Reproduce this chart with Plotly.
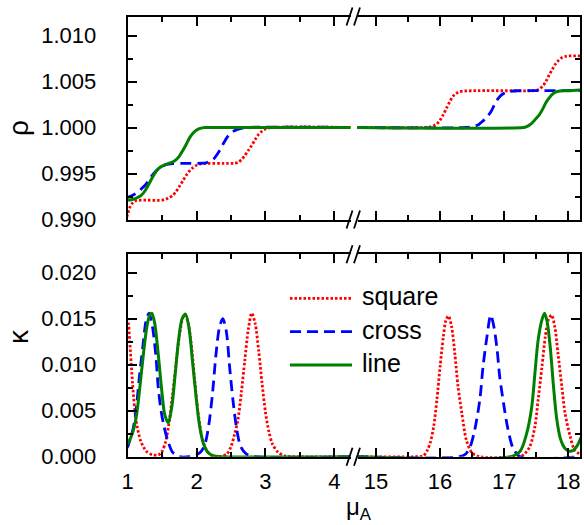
import plotly.graph_objects as go

# ---------------- data ----------------
SERIES = ["square", "cross", "line"]
COLORS = {"square": "#ff0000", "cross": "#0000ff", "line": "#008000"}

MU_RHO_SQUARE = [0.97, 1.00, 1.03, 1.07, 1.12, 1.20, 1.50, 1.55, 1.60, 1.65,
                 1.70, 1.75, 1.80, 1.85, 1.90, 1.95, 2.00, 2.06, 2.50, 2.55,
                 2.60, 2.65, 2.70, 2.75, 2.80, 2.85, 2.90, 2.95, 3.00, 3.08, 4.30,
                 14.70, 15.75, 15.85, 15.90, 15.95, 16.00, 16.05, 16.10, 16.15, 16.20,
                 16.25, 16.30, 16.38, 16.50, 17.45, 17.50, 17.55, 17.60, 17.65, 17.70,
                 17.75, 17.80, 17.85, 17.90, 17.95, 18.00, 18.20]
RHO_SQUARE = [0.9898, 0.9906, 0.9913, 0.9918, 0.99205, 0.9921, 0.9921, 0.99222, 0.99235, 0.9926,
              0.9930, 0.9936, 0.9942, 0.9948, 0.9953, 0.99565, 0.9959, 0.99605, 0.9961, 0.99612,
              0.9962, 0.9965, 0.99695, 0.9975, 0.99805, 0.9987, 0.99925, 0.9996, 0.99985, 1.0000, 1.0000,
              1.0000, 1.0000, 1.00008, 1.0002, 1.0004, 1.0008, 1.0014, 1.0021, 1.0028, 1.0034,
              1.0037, 1.00388, 1.00397, 1.0040, 1.0040, 1.00402, 1.0042, 1.0045, 1.0050, 1.0057,
              1.0063, 1.0069, 1.0073, 1.0076, 1.00772, 1.00778, 1.0078]

MU_RHO_CROSS = [0.97, 1.00, 1.05, 1.10, 1.15, 1.20, 1.25, 1.30, 1.35, 1.40,
                1.45, 1.50, 1.56, 1.65, 1.80, 2.10, 2.15, 2.20, 2.25, 2.30,
                2.35, 2.40, 2.45, 2.50, 2.55, 2.62, 2.75, 4.30,
                14.70, 16.40, 16.50, 16.60, 16.65, 16.70, 16.75, 16.80, 16.85, 16.90,
                16.95, 17.00, 17.05, 17.10, 17.20, 18.20]
RHO_CROSS = [0.9923, 0.99241, 0.99255, 0.99275, 0.9930, 0.99335, 0.9937, 0.9942, 0.99475, 0.9952,
             0.9955, 0.99578, 0.99598, 0.99608, 0.9961, 0.99612, 0.9962, 0.99635, 0.9966, 0.9971,
             0.9977, 0.9984, 0.9990, 0.9994, 0.99965, 0.99985, 1.0, 1.0,
             1.0, 1.0, 1.0001, 1.0003, 1.0006, 1.0009, 1.0013, 1.0018, 1.0025, 1.0031,
             1.0035, 1.00372, 1.00385, 1.00393, 1.0040, 1.0040]

MU_RHO_LINE = [0.97, 1.00, 1.05, 1.10, 1.15, 1.20, 1.25, 1.30, 1.35, 1.40,
               1.45, 1.50, 1.55, 1.60, 1.65, 1.70, 1.75, 1.80, 1.85, 1.90,
               1.95, 2.00, 2.05, 2.12, 2.25, 4.30,
               14.70, 17.30, 17.35, 17.40, 17.45, 17.50, 17.55, 17.60, 17.65, 17.70,
               17.75, 17.80, 17.87, 18.00, 18.20]
RHO_LINE = [0.99211, 0.99212, 0.99215, 0.99225, 0.99242, 0.99265, 0.9931, 0.99375, 0.99445, 0.9951,
            0.99555, 0.9958, 0.99598, 0.99612, 0.99625, 0.99648, 0.9969, 0.9975, 0.99818, 0.9989,
            0.9994, 0.99972, 0.9999, 1.0, 1.0, 1.0,
            1.0, 1.0, 1.0001, 1.0003, 1.0006, 1.0010, 1.0014, 1.0020, 1.0027, 1.0032,
            1.0036, 1.00385, 1.00397, 1.0040, 1.0041]

MU_KAPPA_SQUARE = [0.97, 1.00, 1.03, 1.07, 1.12, 1.19, 1.27, 1.36, 1.45, 1.50,
                   1.55, 1.60, 1.65, 1.70, 1.75, 1.80, 1.83, 1.87, 1.92, 1.97,
                   2.02, 2.07, 2.13, 2.20, 2.32, 2.44, 2.50, 2.55, 2.60, 2.65,
                   2.70, 2.75, 2.80, 2.85, 2.90, 2.95, 3.00, 3.05, 3.10, 3.18,
                   3.28, 3.40, 4.30,
                   14.70, 15.62, 15.74, 15.80, 15.85, 15.90, 15.95, 16.00, 16.05, 16.09,
                   16.13, 16.18, 16.23, 16.28, 16.34, 16.41, 16.50, 16.62, 17.20, 17.30,
                   17.40, 17.48, 17.53, 17.59, 17.64, 17.69, 17.74, 17.79, 17.84, 17.90,
                   17.95, 18.03, 18.10, 18.20]
KAPPA_SQUARE = [0.0155, 0.0150, 0.0125, 0.0080, 0.0040, 0.0017, 0.0006, 0.0002, 0.0002, 0.0006,
                0.0016, 0.0037, 0.0067, 0.0100, 0.0131, 0.0151, 0.0154, 0.0148, 0.0124, 0.0085,
                0.0049, 0.0024, 0.0009, 0.0002, 0.0, 0.0003, 0.0011, 0.0024, 0.0040, 0.0070,
                0.0105, 0.0138, 0.0156, 0.0145, 0.0116, 0.0080, 0.0048, 0.0027, 0.0014, 0.0005,
                0.0001, 0.0, 0.0,
                0.0, 0.0, 0.0001, 0.0007, 0.0016, 0.0033, 0.0062, 0.0098, 0.0130, 0.0148,
                0.0153, 0.0141, 0.0112, 0.0076, 0.0047, 0.0018, 0.0004, 0.0, 0.0, 0.0002,
                0.0011, 0.0033, 0.0062, 0.0098, 0.0130, 0.0149, 0.0154, 0.0141, 0.0112, 0.0076,
                0.0047, 0.0022, 0.0007, 0.0002]

MU_KAPPA_CROSS = [0.97, 1.00, 1.04, 1.08, 1.12, 1.17, 1.22, 1.27, 1.31, 1.36,
                  1.41, 1.44, 1.48, 1.53, 1.58, 1.65, 1.75, 1.90, 2.00, 2.07,
                  2.13, 2.18, 2.23, 2.28, 2.33, 2.38, 2.43, 2.48, 2.53, 2.58,
                  2.64, 2.72, 2.85, 4.30,
                  14.70, 16.30, 16.40, 16.47, 16.54, 16.62, 16.67, 16.73, 16.79, 16.84,
                  16.89, 16.93, 16.99, 17.05, 17.14, 17.25, 18.20]
KAPPA_CROSS = [0.0008, 0.0011, 0.0020, 0.0031, 0.0050, 0.0087, 0.0120, 0.0149, 0.0156, 0.0141,
               0.0109, 0.0078, 0.0052, 0.0032, 0.0018, 0.0005, 0.0, 0.0, 0.0002, 0.0006,
               0.0016, 0.0036, 0.0068, 0.0110, 0.0140, 0.0150, 0.0137, 0.0097, 0.0060, 0.0031,
               0.0011, 0.0003, 0.0, 0.0,
               0.0, 0.0, 0.0003, 0.0011, 0.0029, 0.0062, 0.0098, 0.0130, 0.0154, 0.0141,
               0.0116, 0.0087, 0.0058, 0.0033, 0.0009, 0.0, 0.0]

MU_KAPPA_LINE = [0.97, 1.00, 1.04, 1.08, 1.13, 1.18, 1.23, 1.28, 1.32, 1.35,
                 1.39, 1.44, 1.49, 1.54, 1.59, 1.64, 1.69, 1.74, 1.79, 1.84,
                 1.89, 1.94, 1.99, 2.04, 2.10, 2.16, 2.24, 2.36, 4.30,
                 14.70, 17.10, 17.25, 17.35, 17.43, 17.48, 17.53, 17.59, 17.63, 17.67,
                 17.72, 17.77, 17.82, 17.88, 17.95, 18.02, 18.08, 18.14, 18.20]
KAPPA_LINE = [0.0012, 0.00145, 0.0020, 0.0028, 0.0046, 0.0078, 0.0113, 0.0142, 0.0154, 0.0156,
              0.0146, 0.0114, 0.0075, 0.0045, 0.0037, 0.0054, 0.0090, 0.0128, 0.0150, 0.0155,
              0.0140, 0.0104, 0.0067, 0.0035, 0.0014, 0.0005, 0.0001, 0.0, 0.0,
              0.0, 0.0, 0.0006, 0.0025, 0.0054, 0.0091, 0.0127, 0.0149, 0.0156, 0.0147,
              0.0118, 0.0076, 0.0041, 0.0019, 0.0009, 0.0006, 0.0007, 0.0012, 0.0021]

RHO_DATA = {"square": (MU_RHO_SQUARE, RHO_SQUARE),
            "cross": (MU_RHO_CROSS, RHO_CROSS),
            "line": (MU_RHO_LINE, RHO_LINE)}
KAPPA_DATA = {"square": (MU_KAPPA_SQUARE, KAPPA_SQUARE),
              "cross": (MU_KAPPA_CROSS, KAPPA_CROSS),
              "line": (MU_KAPPA_LINE, KAPPA_LINE)}

X_LEFT_RANGE = [1.0, 4.234]
X_RIGHT_RANGE = [14.711, 18.183]
RHO_RANGE = [0.990, 1.01207]
KAPPA_RANGE = [0.0, 0.0220]
X_LEFT_TICKS = [1, 2, 3, 4]
X_RIGHT_TICKS = [15, 16, 17, 18]

# ---------------- layout helpers ----------------
W, H = 584, 525
FONT = "Liberation Sans, Arial, sans-serif"


def fx(p):
    return p / W


def fy(p):
    return 1 - p / H


DASH = {"square": "2.5px,2px", "cross": "11px,6px", "line": "solid"}
WIDTH = {"square": 2.8, "cross": 2.8, "line": 3.0}

fig = go.Figure()

panels = [  # (data dict, left axes, right axes)
    (RHO_DATA, ("x", "y"), ("x2", "y2")),
    (KAPPA_DATA, ("x3", "y3"), ("x4", "y4")),
]
for data, left, right in panels:
    for name in SERIES:
        xs, ys = data[name]
        lx = [a for a in xs if a < 10]
        ly = [b for a, b in zip(xs, ys) if a < 10]
        rx = [a for a in xs if a >= 10]
        ry = [b for a, b in zip(xs, ys) if a >= 10]
        for (xa, ya), px_, py_ in ((left, lx, ly), (right, rx, ry)):
            fig.add_trace(go.Scatter(
                x=px_, y=py_, xaxis=xa, yaxis=ya, mode="lines",
                line=dict(color=COLORS[name], width=WIDTH[name],
                          dash=DASH[name], shape="spline", smoothing=0.8),
                showlegend=False, hoverinfo="skip"))

XL_DOM = [fx(127.7), fx(350.5)]
XR_DOM = [fx(357.5), fx(580.0)]
TOP_DOM = [fy(219.5), fy(16.5)]
BOT_DOM = [fy(456.7), fy(254.3)]

tickfont = dict(family=FONT, size=22, color="black")


def xax(dom, rng, anchor, ticks, labels):
    return dict(domain=dom, range=rng, anchor=anchor, tickmode="array",
                tickvals=ticks, ticktext=[str(t) for t in ticks],
                ticks="inside", ticklen=9, tickwidth=2, tickcolor="black",
                minor=dict(dtick=0.5, tick0=0.5, ticks="inside", ticklen=5,
                           tickwidth=2, tickcolor="black"),
                showline=True, linewidth=2, linecolor="black", mirror="ticks",
                showgrid=False, zeroline=False, showticklabels=labels,
                automargin=False,
                tickfont=tickfont, ticklabelstandoff=4, fixedrange=True)


def yax(dom, rng, anchor, side, labels):
    return dict(domain=dom, range=rng, anchor=anchor, side=side,
                dtick=0.005, tick0=0, tickformat=".3f",
                ticks="inside", ticklen=9, tickwidth=2, tickcolor="black",
                minor=dict(dtick=0.0025, tick0=0, ticks="inside", ticklen=5,
                           tickwidth=2, tickcolor="black"),
                showline=True, linewidth=2, linecolor="black", mirror=False,
                showgrid=False, zeroline=False, showticklabels=labels,
                automargin=False,
                tickfont=tickfont, ticklabelstandoff=25, fixedrange=True)


fig.update_layout(
    template="none",
    width=W, height=H, margin=dict(l=0, r=0, t=0, b=0, pad=0, autoexpand=False),
    paper_bgcolor="white", plot_bgcolor="white",
    xaxis=xax(XL_DOM, X_LEFT_RANGE, "y", X_LEFT_TICKS, False),
    xaxis2=xax(XR_DOM, X_RIGHT_RANGE, "y2", X_RIGHT_TICKS, False),
    xaxis3=xax(XL_DOM, X_LEFT_RANGE, "y3", X_LEFT_TICKS, True),
    xaxis4=xax(XR_DOM, X_RIGHT_RANGE, "y4", X_RIGHT_TICKS, True),
    yaxis=yax(TOP_DOM, RHO_RANGE, "x", "left", True),
    yaxis2=yax(TOP_DOM, RHO_RANGE, "x2", "right", False),
    yaxis3=yax(BOT_DOM, KAPPA_RANGE, "x3", "left", True),
    yaxis4=yax(BOT_DOM, KAPPA_RANGE, "x4", "right", False),
    showlegend=False,
)

shapes = []
# axis-break marks "//"
for yf in (16.5, 219.5, 254.3, 456.7):
    for x0 in (346.5, 354.0):
        shapes.append(dict(type="line", xref="paper", yref="paper",
                           x0=fx(x0), y0=fy(yf + 9), x1=fx(x0 + 6), y1=fy(yf - 9),
                           line=dict(color="black", width=1.8)))

# legend (drawn by hand so the samples have the reference's length)
LEG_Y = {"square": 298.3, "cross": 331.7, "line": 365.0}
annotations = []
for name in SERIES:
    yy = LEG_Y[name]
    shapes.append(dict(type="line", xref="paper", yref="paper",
                       x0=fx(290), y0=fy(yy), x1=fx(352), y1=fy(yy),
                       line=dict(color=COLORS[name], width=WIDTH[name],
                                 dash=DASH[name])))
    annotations.append(dict(xref="paper", yref="paper", x=fx(359.5), y=fy(yy - 2),
                            text=name, showarrow=False, xanchor="left",
                            yanchor="middle",
                            font=dict(family=FONT, size=25, color="black")))

titlefont = dict(family=FONT, size=28, color="black")
annotations += [
    dict(xref="paper", yref="paper", x=fx(18), y=fy(128), text="ρ",
         textangle=-90, showarrow=False, xanchor="center", yanchor="middle",
         font=titlefont),
    dict(xref="paper", yref="paper", x=fx(18), y=fy(337), text="κ",
         textangle=-90, showarrow=False, xanchor="center", yanchor="middle",
         font=titlefont),
    dict(xref="paper", yref="paper", x=fx(344), y=fy(508), text="μ<sub>A</sub>",
         showarrow=False, xanchor="left", yanchor="middle",
         font=dict(family=FONT, size=24, color="black")),
]

fig.update_layout(shapes=shapes, annotations=annotations)
fig.write_html("out.html")
